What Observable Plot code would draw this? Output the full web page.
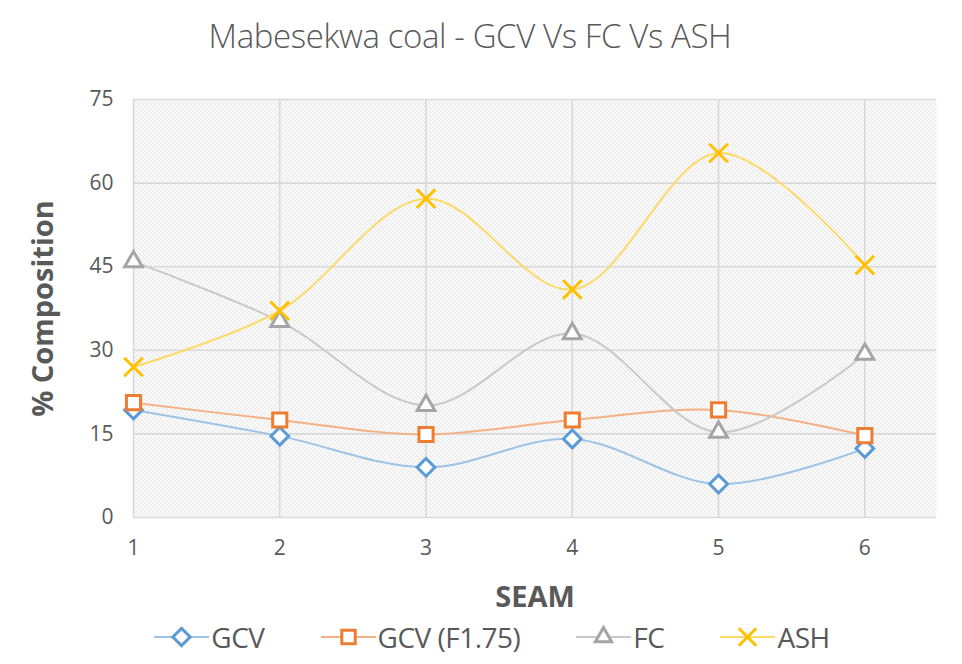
<!DOCTYPE html>
<html>
<head>
<meta charset="utf-8">
<script src="https://cdn.jsdelivr.net/npm/d3@7"></script>
<script src="https://cdn.jsdelivr.net/npm/@observablehq/plot@0.6"></script>
<style>
  body { margin: 0; background: #fff; font-family: "Open Sans", sans-serif; }
  #wrap { width: 962px; height: 664px; position: relative; overflow: hidden; }
  #title { position: absolute; left: 0; top: 13px; width: 940px; text-align: center;
    font-size: 33px; line-height: 46px; font-weight: 300; color: #595959; letter-spacing: -0.4px; }
  #chart { position: absolute; left: 0; top: 70px; }
  #legend { position: absolute; left: 0; top: 619px; width: 962px; display: flex; justify-content: center; gap: 56px; padding-left: 22px; box-sizing: border-box; }
  .item { display: flex; align-items: center; gap: 2px; font-size: 28px; line-height: 36px; color: #595959; letter-spacing: -0.5px; }
  .item svg { display: block; }
</style>
</head>
<body>
<div id="wrap">
  <div id="title">Mabesekwa coal - GCV Vs FC Vs ASH</div>
  <div id="chart"></div>
  <div id="legend"></div>
</div>
<script>
const seams = [1, 2, 3, 4, 5, 6];
const gcv = [19.3, 14.6, 9.0, 14.1, 6.0, 12.4];
const gcvF175 = [20.6, 17.5, 14.9, 17.5, 19.3, 14.7];
const fc = [45.9, 35.2, 20.1, 33.0, 15.3, 29.3];
const ash = [27.0, 37.1, 57.2, 40.9, 65.4, 45.3];
const seriesNames = ["GCV", "GCV (F1.75)", "FC", "ASH"];
const yTicks = [0, 15, 30, 45, 60, 75];

const styles = {
  "GCV": {line: "#9dc3e6", marker: "#5b9bd5", symbol: "diamond2", r: 8, fill: "white"},
  "GCV (F1.75)": {line: "#f4b183", marker: "#ed7d31", symbol: "square2", r: 9, fill: "white"},
  "FC": {line: "#c9c9c9", marker: "#a5a5a5", symbol: "triangle2", r: 8.5, fill: "white"},
  "ASH": {line: "#ffd966", marker: "#ffc000", symbol: "times", r: 8.5, fill: "none"}
};
const valuesBySeries = {"GCV": gcv, "GCV (F1.75)": gcvF175, "FC": fc, "ASH": ash};
const data = seriesNames.flatMap(s => seams.map((x, i) => ({series: s, seam: x, value: valuesBySeries[s][i]})));

const marks = [
  Plot.frame({fill: "url(#hatch)", stroke: "none"}),
  Plot.gridY(yTicks, {stroke: "#d9d9d9", strokeOpacity: 1, strokeWidth: 1.6}),
  Plot.gridX(seams, {stroke: "#d9d9d9", strokeOpacity: 1, strokeWidth: 1.6}),
  Plot.axisX(seams, {tickSize: 0, tickPadding: 23, fontSize: 21, fill: "#595959", tickFormat: d => String(d),
    label: "SEAM", labelAnchor: "center", labelArrow: "none", labelOffset: 89}),
  Plot.axisY(yTicks, {tickSize: 0, tickPadding: 20, fontSize: 21, fill: "#595959",
    label: "% Composition", labelAnchor: "center", labelArrow: "none", labelOffset: 101}),
];
for (const s of seriesNames) {
  const st = styles[s];
  const d = data.filter(r => r.series === s);
  marks.push(Plot.line(d, {x: "seam", y: "value", stroke: st.line, strokeWidth: 2, curve: "catmull-rom"}));
}
for (const s of seriesNames) {
  const st = styles[s];
  const d = data.filter(r => r.series === s);
  marks.push(Plot.dot(d, {x: "seam", y: "value", symbol: () => st.symbol, r: st.r, stroke: st.marker, strokeWidth: 3, fill: st.fill}));
}

const svg = Plot.plot({
  width: 962,
  height: 560,
  marginLeft: 133,
  marginRight: 26,
  marginTop: 29,
  marginBottom: 113,
  style: {fontFamily: "Open Sans, sans-serif", fontSize: "21px", color: "#595959", background: "transparent", overflow: "visible"},
  x: {domain: [1, 6.49]},
  y: {domain: [0, 75]},
  symbol: {type: "identity"},
  marks
});

// hatch pattern
const defs = d3.select(svg).insert("defs", ":first-child");
const pat = defs.append("pattern").attr("id", "hatch").attr("patternUnits", "userSpaceOnUse")
  .attr("width", 4).attr("height", 4);
pat.append("rect").attr("width", 4).attr("height", 4).attr("fill", "#ffffff");
pat.append("path").attr("d", "M-1,-1L5,5M-1,3L1,5M3,-1L5,1").attr("stroke", "#d4d4d4").attr("stroke-width", 1)
  .attr("shape-rendering", "crispEdges");

// text styling
d3.select(svg).selectAll("text").style("font-size", "21px").style("fill", "#595959");
d3.select(svg).selectAll("text").filter(function() { return this.textContent === "SEAM" || this.textContent === "% Composition"; })
  .style("font-size", "29px").style("font-weight", "700");

document.getElementById("chart").appendChild(svg);

// legend
const legend = d3.select("#legend");
const symPaths = {
  "diamond2": d3.symbol(d3.symbolDiamond2, 190)(),
  "square2": d3.symbol(d3.symbolSquare2, 230)(),
  "triangle2": d3.symbol(d3.symbolTriangle2, 190)(),
  "times": d3.symbol(d3.symbolTimes, 200)()
};
for (const s of seriesNames) {
  const st = styles[s];
  const item = legend.append("div").attr("class", "item");
  const isvg = item.append("svg").attr("width", 55).attr("height", 30);
  isvg.append("line").attr("x1", 0).attr("x2", 55).attr("y1", 15).attr("y2", 15).attr("stroke", st.line).attr("stroke-width", 2);
  isvg.append("path").attr("d", symPaths[st.symbol]).attr("transform", "translate(27.5,15)")
    .attr("fill", st.fill).attr("stroke", st.marker).attr("stroke-width", 3);
  item.append("span").text(s);
}
</script>
</body>
</html>
